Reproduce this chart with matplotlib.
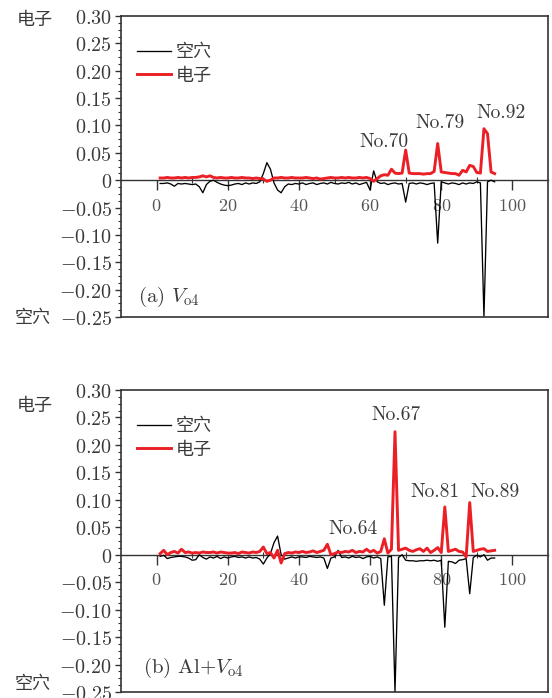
import matplotlib
matplotlib.use('Agg')
import matplotlib.pyplot as plt
from matplotlib.ticker import AutoMinorLocator, FixedLocator
from matplotlib.font_manager import FontProperties

plt.rcParams['mathtext.fontset'] = 'cm'
plt.rcParams['font.family'] = ['Noto Sans CJK SC', 'DejaVu Sans']

# ---------------- data ----------------
atoms = list(range(1, 96))

elec_a = [0.004, 0.004, 0.005, 0.004, 0.004, 0.005, 0.004, 0.005, 0.004, 0.005,
          0.005, 0.006, 0.008, 0.006, 0.008, 0.005, 0.004, 0.005, 0.004, 0.004,
          0.005, 0.004, 0.004, 0.005, 0.004, 0.004, 0.003, 0.004, 0.003, 0.002,
          -0.002, 0.000, 0.004, 0.004, 0.005, 0.004, 0.004, 0.005, 0.004, 0.004,
          0.004, 0.005, 0.004, 0.003, 0.004, 0.002, 0.003, 0.004, 0.005, 0.004,
          0.004, 0.005, 0.004, 0.005, 0.004, 0.004, 0.005, 0.004, 0.005, 0.003,
          -0.002, 0.003, 0.008, 0.010, 0.009, 0.020, 0.013, 0.012, 0.013, 0.055,
          0.013, 0.012, 0.012, 0.012, 0.011, 0.012, 0.012, 0.016, 0.067, 0.015,
          0.014, 0.013, 0.012, 0.012, 0.009, 0.018, 0.015, 0.027, 0.025, 0.014,
          0.013, 0.094, 0.085, 0.015, 0.012]

hole_a = [-0.006, -0.006, -0.005, -0.007, -0.011, -0.006, -0.007, -0.006, -0.007, -0.008,
          -0.007, -0.012, -0.023, -0.008, -0.002, 0.000, -0.004, -0.007, -0.009, -0.010,
          -0.009, -0.007, -0.006, -0.008, -0.005, -0.007, -0.005, -0.006, -0.003, 0.012,
          0.032, 0.020, -0.005, -0.018, -0.023, -0.012, -0.007, -0.008, -0.006, -0.007,
          -0.005, -0.008, -0.006, -0.005, -0.008, -0.006, -0.005, -0.007, -0.004, -0.006,
          -0.007, -0.005, -0.006, -0.004, -0.007, -0.005, -0.008, -0.006, -0.004, -0.018,
          0.017, -0.003, -0.006, -0.005, -0.008, -0.006, -0.005, -0.007, -0.006, -0.040,
          -0.006, -0.005, -0.007, -0.005, -0.006, -0.008, -0.006, -0.005, -0.115, -0.003,
          -0.005, -0.007, -0.005, -0.006, -0.008, -0.005, -0.007, -0.005, -0.006, -0.003,
          -0.005, -0.250, -0.003, 0.000, -0.003]

elec_b = [0.002, 0.008, 0.000, 0.004, 0.006, 0.003, 0.010, 0.004, 0.005, 0.003,
          0.004, 0.003, 0.005, 0.004, 0.004, 0.005, 0.003, 0.005, 0.004, 0.003,
          0.003, 0.004, 0.002, 0.005, 0.004, 0.003, 0.005, 0.004, 0.006, 0.014,
          0.002, 0.004, -0.006, 0.008, -0.015, 0.002, 0.004, 0.003, 0.005, 0.004,
          0.006, 0.004, 0.005, 0.007, 0.004, 0.006, 0.008, 0.019, 0.000, 0.002,
          0.005, 0.004, 0.006, 0.005, 0.008, 0.004, 0.006, 0.005, 0.010, 0.005,
          0.008, 0.003, 0.006, 0.029, 0.003, 0.010, 0.224, 0.008, 0.010, 0.012,
          0.008, 0.006, 0.009, 0.011, 0.006, 0.012, 0.004, 0.008, 0.013, 0.004,
          0.087, 0.006, 0.008, 0.010, 0.006, 0.005, -0.004, 0.095, 0.006, 0.008,
          0.010, 0.011, 0.006, 0.007, 0.008]

hole_b = [-0.003, -0.001, -0.007, -0.005, -0.004, -0.003, -0.003, -0.004, -0.006, -0.010,
          -0.009, 0.000, -0.005, -0.008, -0.004, -0.006, -0.003, -0.007, -0.004, -0.006,
          -0.004, -0.003, -0.005, -0.004, -0.006, -0.004, -0.006, -0.005, -0.008, -0.017,
          -0.006, 0.002, 0.022, 0.034, 0.000, -0.008, -0.006, -0.004, -0.006, -0.004,
          -0.004, -0.005, -0.003, -0.004, -0.005, -0.004, -0.006, -0.025, -0.006, -0.004,
          0.008, -0.005, -0.004, -0.006, -0.003, -0.005, -0.004, -0.007, -0.004, -0.003,
          -0.006, -0.004, -0.007, -0.092, -0.004, -0.003, -0.250, -0.005, 0.000, -0.010,
          -0.011, -0.011, -0.012, -0.011, -0.011, -0.010, -0.011, -0.010, -0.012, -0.010,
          -0.132, -0.012, -0.013, -0.016, -0.010, -0.009, -0.007, -0.071, -0.005, -0.001,
          -0.004, 0.000, -0.010, -0.006, -0.006]

peak_labels_a = ['No.70', 'No.79', 'No.92']
peak_labels_b = ['No.64', 'No.67', 'No.81', 'No.89']
panel_labels = [r'(a) $V_{\mathrm{o4}}$', r'(b) Al$+V_{\mathrm{o4}}$']
y_ticks = [0.30, 0.25, 0.20, 0.15, 0.10, 0.05, 0.0, -0.05, -0.10, -0.15, -0.20, -0.25]
y_tick_labels = ['0.30', '0.25', '0.20', '0.15', '0.10', '0.05', '0',
                 '-0.05', '-0.10', '-0.15', '-0.20', '-0.25']
x_ticks = [0, 20, 40, 60, 80, 100]

# ---------------- style ----------------
RED = '#ea2026'
GREY = '#333333'
TXT = '#3a3a3a'
cjk = FontProperties(family='Noto Sans CJK SC', size=13)
cm = FontProperties(family='cmr10', size=14)
cm_panel = FontProperties(family='cmr10', size=15)

fig = plt.figure(figsize=(5.52, 6.98), dpi=100)
W, H = 552, 698
ax1 = fig.add_axes([121 / W, (H - 317) / H, 427 / W, 301 / H])
ax2 = fig.add_axes([121 / W, (H - 692) / H, 427 / W, 302 / H])

def style(ax):
    ax.set_xlim(-10, 110)
    ax.set_ylim(-0.25, 0.30)
    for s in ['left', 'right', 'top', 'bottom']:
        ax.spines[s].set_color(GREY)
        ax.spines[s].set_linewidth(1.2)
    ax.spines['bottom'].set_position(('data', 0))
    ax.spines['bottom'].set_linewidth(1.0)
    # closing line of the frame at the bottom
    ax.plot([0, 1], [0, 0], transform=ax.transAxes, color=GREY, lw=1.2,
            clip_on=False, zorder=5)
    ax.set_yticks(y_ticks)
    ax.set_yticklabels(['$' + t + '$' for t in y_tick_labels])
    ax.yaxis.set_minor_locator(AutoMinorLocator(4))
    ax.set_xticks(x_ticks)
    ax.set_xticklabels(['$%d$' % t for t in x_ticks])
    ax.xaxis.set_minor_locator(FixedLocator([10, 30, 50, 70, 90]))
    ax.tick_params(axis='y', which='major', direction='out', length=4.5, width=1.0,
                   color=GREY, labelsize=14.5, labelcolor=TXT, pad=2)
    ax.tick_params(axis='y', which='minor', direction='out', length=2.5, width=0.8,
                   color=GREY)
    ax.tick_params(axis='x', which='major', direction='out', length=7, width=1.0,
                   color=GREY, labelsize=13, labelcolor='#555555', pad=5)
    ax.tick_params(axis='x', which='minor', direction='inout', length=5, width=0.8,
                   color=GREY)
    ax.tick_params(right=False, top=False)

for ax, e, h in [(ax1, elec_a, hole_a), (ax2, elec_b, hole_b)]:
    style(ax)
    ax.plot(atoms, h, color='black', lw=0.95, label='空穴', zorder=3)
    ax.plot(atoms, e, color=RED, lw=2.1, label='电子', zorder=4)
    leg = ax.legend(loc='upper left', bbox_to_anchor=(0.038, 0.91), frameon=False,
                    prop=cjk, handlelength=1.85, handletextpad=0.3,
                    labelspacing=0.3, borderpad=0, borderaxespad=0)
    for t in leg.get_texts():
        t.set_color(TXT)

ann_kw = dict(fontproperties=cm, color=TXT, ha='center', va='center')
for lab, (x, y) in zip(peak_labels_a, [(63.9, 0.070), (79.7, 0.105), (96.7, 0.122)]):
    ax1.text(x, y, lab, **ann_kw)
for lab, (x, y) in zip(peak_labels_b, [(55.3, 0.047), (67.3, 0.254), (78.1, 0.115), (95.0, 0.115)]):
    ax2.text(x, y, lab, **ann_kw)

ax1.text(0.04, 0.067, panel_labels[0], transform=ax1.transAxes,
         fontproperties=cm_panel, color=TXT, ha='left', va='center')
ax2.text(0.052, 0.079, panel_labels[1], transform=ax2.transAxes,
         fontproperties=cm_panel, color=TXT, ha='left', va='center')

for y in [20, 406]:
    fig.text(35 / W, 1 - y / H, '电子', fontproperties=cjk, color=TXT,
             ha='center', va='center')
for y in [318, 684]:
    fig.text(33 / W, 1 - y / H, '空穴', fontproperties=cjk, color=TXT,
             ha='center', va='center')

fig.savefig('out.png', dpi=100)
